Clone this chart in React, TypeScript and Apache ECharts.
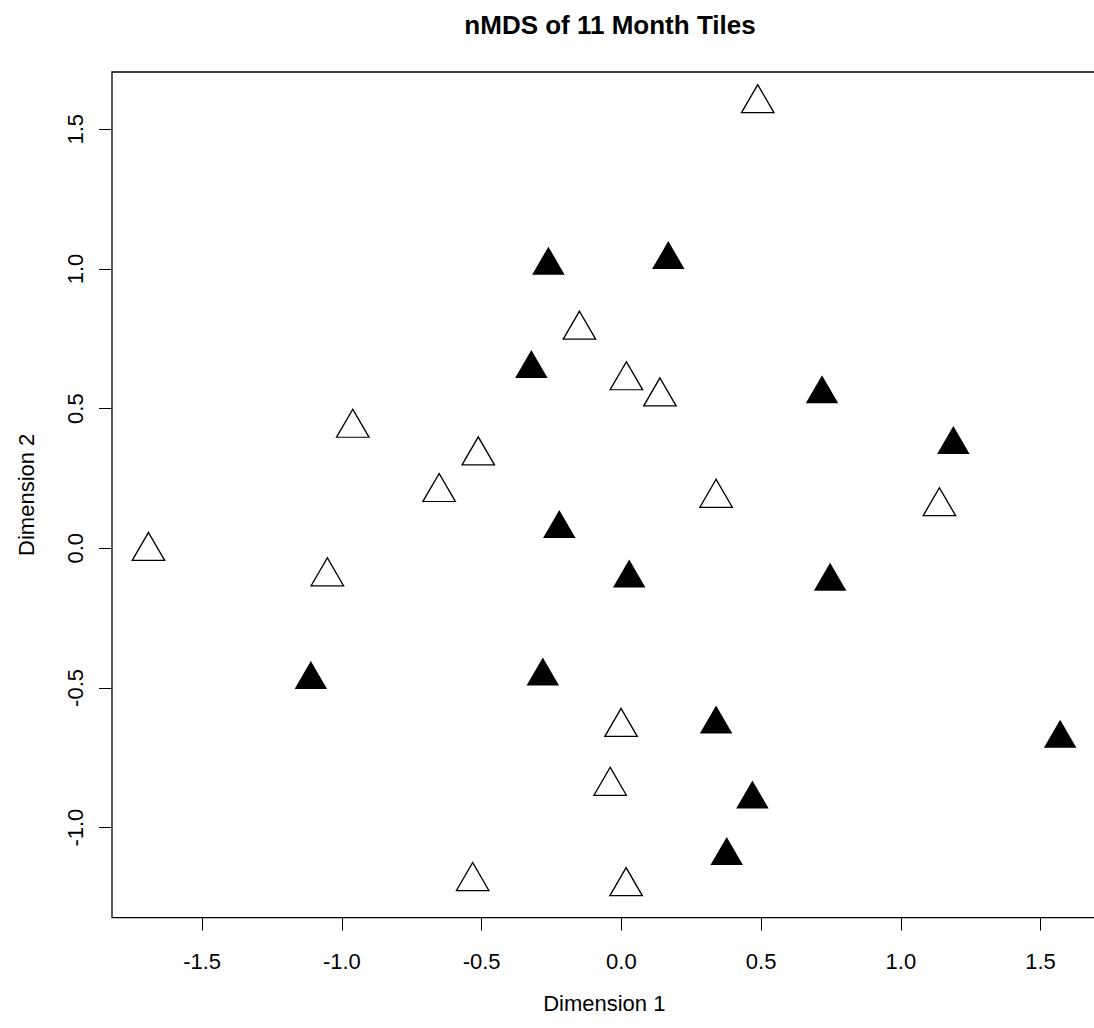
import React, { useEffect, useRef } from "react";
import * as echarts from "echarts";

const chartTitle = "nMDS of 11 Month Tiles";
const xName = "Dimension 1";
const yName = "Dimension 2";

// open triangles
const openX = [0.488, -0.150, 0.018, 0.138, -0.961, -0.512, -0.652, 0.339, 1.138, -1.692, -1.052, -0.001, -0.040, -0.532, 0.017];
const openY = [1.593, 0.782, 0.601, 0.543, 0.431, 0.332, 0.201, 0.180, 0.150, -0.010, -0.101, -0.640, -0.851, -1.192, -1.210];
// filled triangles
const filledX = [-0.261, 0.168, -0.322, 0.718, 1.188, -0.222, 0.028, 0.747, -1.111, -0.281, 0.339, 1.570, 0.469, 0.377];
const filledY = [1.013, 1.033, 0.643, 0.553, 0.371, 0.070, -0.107, -0.119, -0.470, -0.458, -0.630, -0.681, -0.898, -1.100];

const xTicks = [-1.5, -1.0, -0.5, 0.0, 0.5, 1.0, 1.5];
const yTicks = [-1.0, -0.5, 0.0, 0.5, 1.0, 1.5];

const FONT = "'Liberation Sans', Arial, Helvetica, sans-serif";

function padRange(vals: number[]) {
  const lo = Math.min(...vals);
  const hi = Math.max(...vals);
  const d = (hi - lo) * 0.04;
  return [lo - d, hi + d];
}

export default function App() {
  const ref = useRef<HTMLDivElement>(null);
  useEffect(() => {
    if (!ref.current) return;
    const chart = echarts.init(ref.current, undefined, { renderer: "svg" });
    const [xmin, xmax] = padRange([...openX, ...filledX]);
    const [ymin, ymax] = padRange([...openY, ...filledY]);
    const symSize = [32.5, 28];
    const symOffset = [0, -28 / 6];
    chart.setOption({
      animation: false,
      backgroundColor: "#ffffff",
      title: {
        text: chartTitle,
        left: 605,
        top: 7,
        textAlign: "center",
        textStyle: { fontFamily: FONT, fontSize: 26, fontWeight: "bold", color: "#000" },
      },
      grid: {
        left: 112,
        top: 72,
        width: 984.6,
        height: 845.6,
        containLabel: false,
        outerBoundsMode: "none",
        show: true,
        borderColor: "#000",
        borderWidth: 1.3,
        backgroundColor: "transparent",
      },
      xAxis: {
        type: "value",
        min: xmin,
        max: xmax,
        name: xName,
        nameLocation: "middle",
        nameGap: 75,
        nameTextStyle: { fontFamily: FONT, fontSize: 22, color: "#000" },
        splitLine: { show: false },
        axisLine: { show: false, onZero: false },
        axisTick: { show: true, inside: false, length: 13, customValues: xTicks, lineStyle: { color: "#000", width: 1 } },
        axisLabel: {
          customValues: xTicks,
          margin: 33,
          fontFamily: FONT,
          fontSize: 22,
          color: "#000",
          formatter: (v: number) => v.toFixed(1),
        },
      },
      yAxis: {
        type: "value",
        min: ymin,
        max: ymax,
        name: yName,
        nameLocation: "middle",
        nameRotate: 90,
        nameGap: 75,
        nameTextStyle: { fontFamily: FONT, fontSize: 22, color: "#000" },
        splitLine: { show: false },
        axisLine: { show: false, onZero: false },
        axisTick: { show: true, inside: false, length: 13, customValues: yTicks, lineStyle: { color: "#000", width: 1 } },
        axisLabel: {
          customValues: yTicks,
          rotate: 90,
          margin: 26,
          fontFamily: FONT,
          fontSize: 22,
          color: "#000",
          formatter: (v: number) => v.toFixed(1),
        },
      },
      series: [
        {
          type: "scatter",
          name: "open",
          symbol: "triangle",
          symbolSize: symSize,
          symbolOffset: symOffset,
          data: openX.map((x, i) => [x, openY[i]]),
          itemStyle: { color: "#ffffff", borderColor: "#000", borderWidth: 1.3, opacity: 1 },
          emphasis: { disabled: true },
        },
        {
          type: "scatter",
          name: "filled",
          symbol: "triangle",
          symbolSize: symSize,
          symbolOffset: symOffset,
          data: filledX.map((x, i) => [x, filledY[i]]),
          itemStyle: { color: "#000000", opacity: 1 },
          emphasis: { disabled: true },
        },
      ],
    });
    return () => chart.dispose();
  }, []);
  return (
    <div
      ref={ref}
      style={{ position: "absolute", left: 0, top: 0, width: 1094, height: 1028, background: "#fff" }}
    />
  );
}
